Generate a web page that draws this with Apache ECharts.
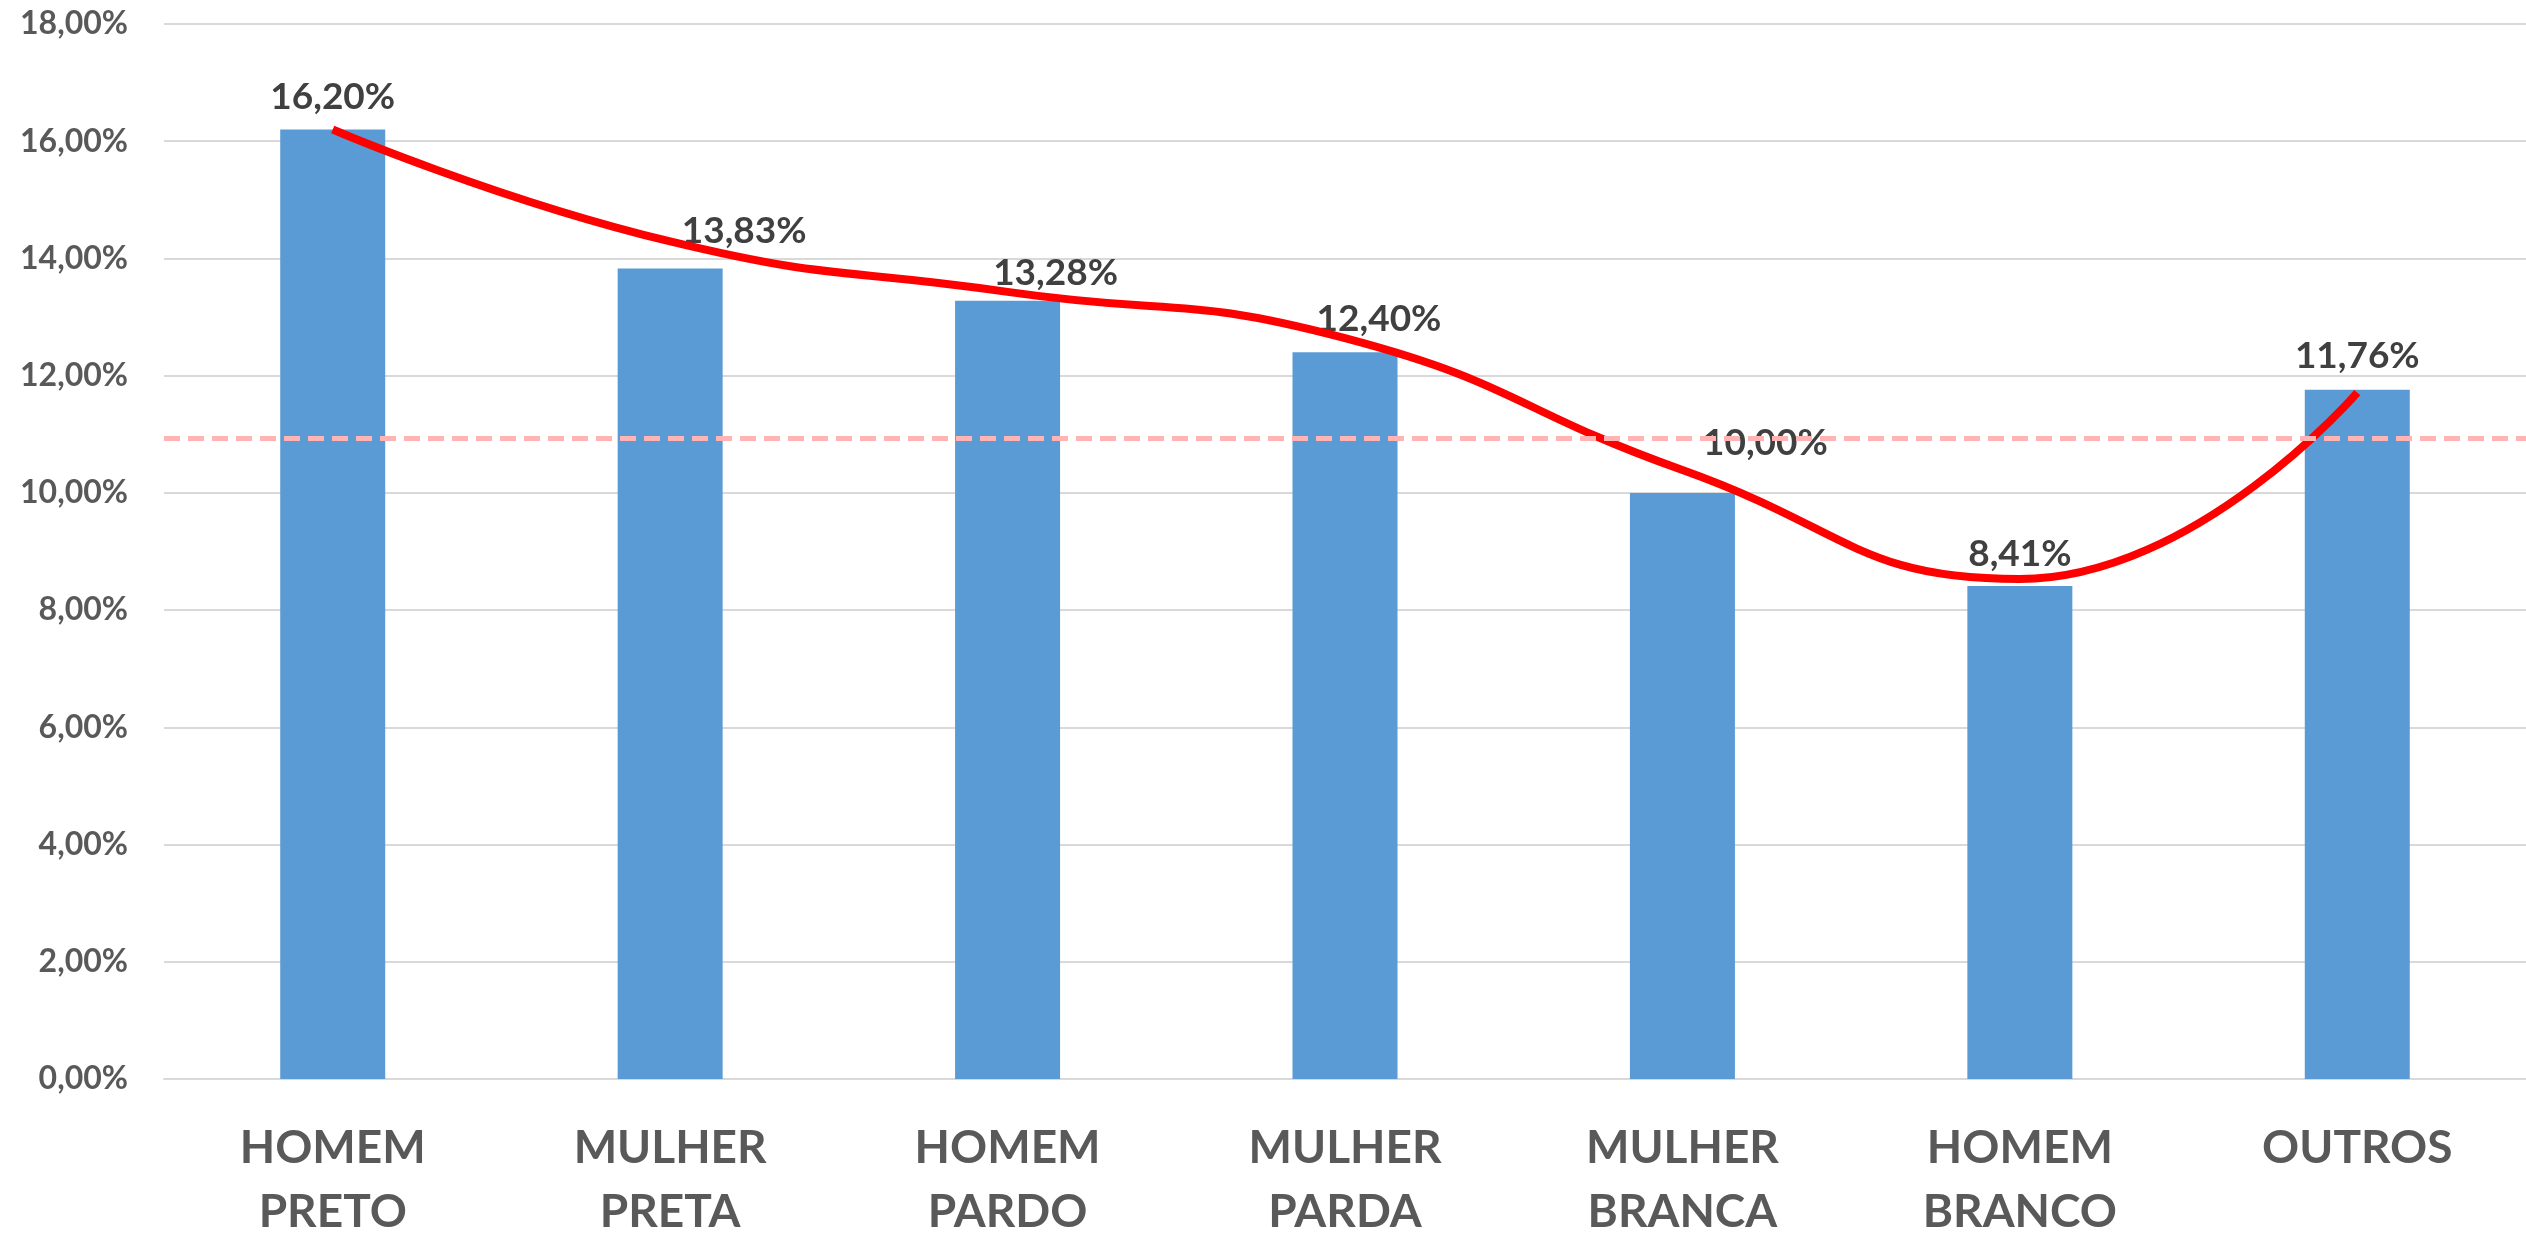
<!DOCTYPE html>
<html>
<head>
<meta charset="utf-8">
<script src="https://cdn.jsdelivr.net/npm/echarts@6/dist/echarts.min.js"></script>
<style>
html,body{margin:0;padding:0;background:#fff;}
#chart{width:2526px;height:1233px;}
</style>
</head>
<body>
<div id="chart"></div>
<script>
// ---- data ----
const categories = ['HOMEM\nPRETO', 'MULHER\nPRETA', 'HOMEM\nPARDO', 'MULHER\nPARDA', 'MULHER\nBRANCA', 'HOMEM\nBRANCO', 'OUTROS'];
const barValues = [16.20, 13.83, 13.28, 12.40, 10.00, 8.41, 11.76];
const trendValues = [16.20, 14.29, 13.43, 12.64, 10.39, 8.53, 11.71];
const referenceLine = 10.94;
const yTicks = [0, 2, 4, 6, 8, 10, 12, 14, 16, 18];

// label nudges (style only)
const labelNudge = [[0, 0], [74, -5], [48, 5], [34, -1], [83, -17], [0, 0], [0, -1]];

const fmt = v => v.toFixed(2).replace('.', ',') + '%';
const FONT = 'Lato, "Open Sans", sans-serif';

const chart = echarts.init(document.getElementById('chart'), null, {renderer: 'canvas'});
chart.setOption({
  animation: false,
  backgroundColor: '#ffffff',
  grid: {left: 164, right: 0, top: 24, bottom: 154, containLabel: false, outerBoundsMode: 'none'},
  xAxis: {
    type: 'category',
    data: categories,
    axisLine: {show: true, lineStyle: {color: '#d9d9d9', width: 2}},
    axisTick: {show: false},
    axisLabel: {
      color: '#595959', fontFamily: FONT, fontWeight: 'bold', fontSize: 46,
      lineHeight: 64, margin: 37, interval: 0
    }
  },
  yAxis: {
    type: 'value',
    min: yTicks[0],
    max: yTicks[yTicks.length - 1],
    interval: 2,
    axisLine: {show: false},
    axisTick: {show: false},
    splitLine: {lineStyle: {color: '#d9d9d9', width: 2}},
    axisLabel: {
      color: '#595959', fontFamily: FONT, fontWeight: 'bold', fontSize: 32,
      margin: 36, formatter: v => fmt(v)
    }
  },
  series: [
    {
      type: 'bar',
      barWidth: 105,
      itemStyle: {color: '#5B9BD5'},
      data: barValues.map((v, i) => ({
        value: v,
        label: {offset: labelNudge[i]}
      })),
      label: {
        show: true, position: 'top', distance: 14,
        color: '#404040', fontFamily: FONT, fontWeight: 'bold', fontSize: 37,
        formatter: p => fmt(p.value)
      },
      z: 2
    },
    {
      type: 'line',
      data: trendValues,
      smooth: 0.5,
      symbol: 'none',
      lineStyle: {color: '#ff0000', width: 8},
      z: 3,
      markLine: {
        silent: true,
        symbol: ['none', 'none'],
        label: {show: false},
        lineStyle: {color: '#ffb3b3', width: 5, type: [16, 8]},
        data: [{yAxis: referenceLine}]
      }
    }
  ]
});
</script>
</body>
</html>
